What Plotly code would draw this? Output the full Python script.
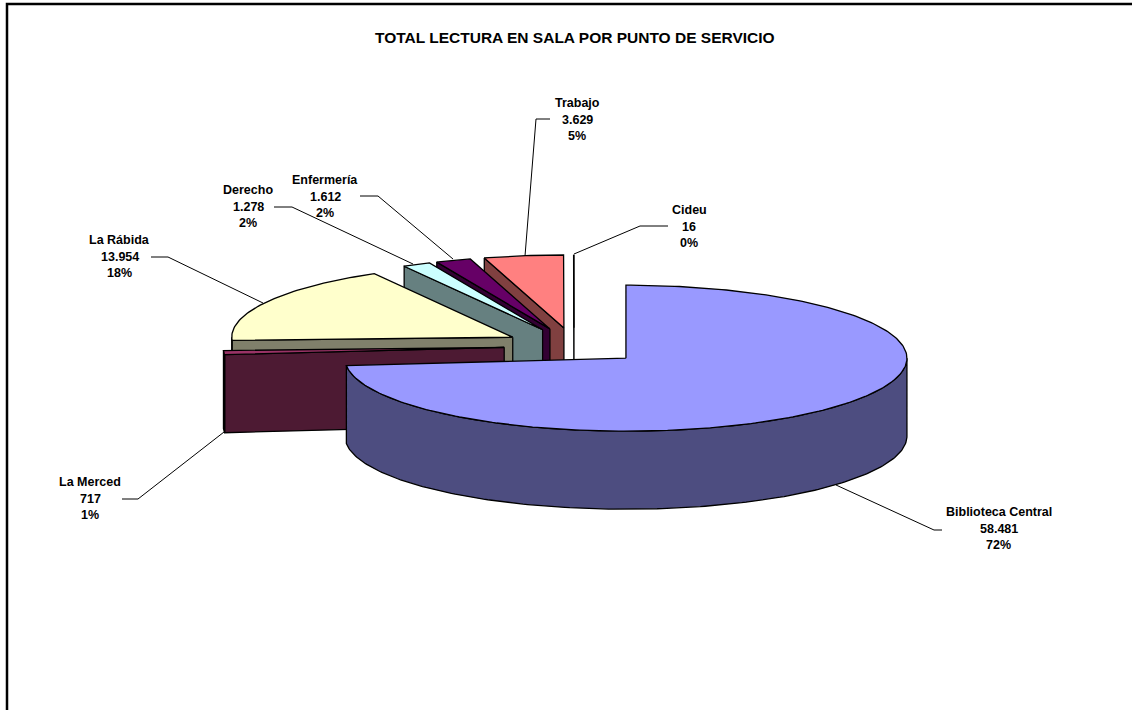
import math
import plotly.graph_objects as go

TITLE = "TOTAL LECTURA EN SALA POR PUNTO DE SERVICIO"
categories = ["Biblioteca Central", "La Merced", "La Rábida", "Derecho", "Enfermería", "Trabajo", "Cideu"]
values = [58481, 717, 13954, 1278, 1612, 3629, 16]
percent_labels = ["72%", "1%", "18%", "2%", "2%", "5%", "0%"]

top_colors = ["#9999FF", "#993366", "#FFFFCC", "#CCFFFF", "#660066", "#FF8080", "#0066CC"]
wall_colors = ["#4D4D80", "#4D1A33", "#80806B", "#668080", "#330033", "#804040", "#003366"]

# Projection of the tilted pie on the pixel-sized plot area
CX, CY, RX, RY, DEPTH, EXPLODE = 574, 346, 281, 73, 78, 70
OUT = 1.3

# Label centres and leader-line paths (layout only)
label_pos = {
    "Biblioteca Central": (998.5, 512), "La Merced": (90, 482), "La Rábida": (119.5, 240),
    "Derecho": (248, 190), "Enfermería": (325, 180), "Trabajo": (577, 103), "Cideu": (689, 210),
}
leaders = [
    [(836, 485), (934, 530), (942, 530)],
    [(224, 432), (138, 499), (122, 499)],
    [(263, 303), (168, 257), (151, 257)],
    [(413, 264), (292, 207), (274, 207)],
    [(453, 259), (378, 196), (360, 196)],
    [(525, 256), (536, 119), (550, 119)],
    [(574, 254), (640, 226), (668, 226)],
]


def project(theta, cx, cy, r=1.0, drop=0.0):
    return cx + RX * r * math.sin(theta), cy - RY * r * math.cos(theta) + drop


def arc(a, b, cx, cy, drop=0.0, step=math.radians(1)):
    n = max(2, int(abs(b - a) / step) + 2)
    return [project(a + (b - a) * i / (n - 1), cx, cy, drop=drop) for i in range(n)]


fig = go.Figure()


def poly(points, fill, width=OUT):
    xs = [p[0] for p in points] + [points[0][0]]
    ys = [p[1] for p in points] + [points[0][1]]
    fig.add_trace(go.Scatter(x=xs, y=ys, mode="lines", fill="toself", fillcolor=fill,
                             line=dict(color="black", width=width), hoverinfo="skip", showlegend=False))


total = sum(values)
angles = []
a = 0.0
for v in values:
    b = a + 2 * math.pi * v / total
    angles.append((a, b))
    a = b

# back to front: last slices first, largest slice on top
for i in reversed(range(len(values))):
    a, b = angles[i]
    mid = (a + b) / 2
    cx = CX + EXPLODE * math.sin(mid)
    cy = CY - EXPLODE * (RY / RX) * math.cos(mid)
    if i > 0:
        # radial wall on the slice's starting edge
        rim = project(a, cx, cy)
        poly([(cx, cy), rim, (rim[0], rim[1] + DEPTH), (cx, cy + DEPTH)], wall_colors[i])
    # outer wall where the rim faces the viewer
    lo, hi = max(a, math.pi / 2), min(b, 3 * math.pi / 2)
    if hi > lo:
        upper = arc(lo, hi, cx, cy)
        lower = arc(hi, lo, cx, cy, drop=DEPTH)
        poly(upper + lower, wall_colors[i])
    poly([(cx, cy)] + arc(a, b, cx, cy), top_colors[i])

for path in leaders:
    fig.add_trace(go.Scatter(x=[p[0] for p in path], y=[p[1] for p in path], mode="lines",
                             line=dict(color="black", width=1), hoverinfo="skip", showlegend=False))

annotations = [dict(x=575, y=37, text=f"<b>{TITLE}</b>", showarrow=False, xref="x", yref="y",
                    font=dict(family="Liberation Sans, Arial", size=15.5, color="black"))]
for cat, val, pct in zip(categories, values, percent_labels):
    x0, y0 = label_pos[cat]
    lines = [cat, f"{val:,}".replace(",", "."), pct]
    for k, line in enumerate(lines):
        annotations.append(dict(x=x0, y=y0 + k * 16.6, text=f"<b>{line}</b>", showarrow=False,
                                xref="x", yref="y",
                                font=dict(family="Liberation Sans, Arial", size=12.5, color="black")))

frame = dict(type="path", path="M 7 710 L 7 4 L 1132 4", line=dict(color="black", width=2.5))

fig.update_layout(
    width=1132, height=710, margin=dict(l=0, r=0, t=0, b=0),
    paper_bgcolor="white", plot_bgcolor="white", showlegend=False,
    xaxis=dict(range=[0, 1132], visible=False, fixedrange=True),
    yaxis=dict(range=[710, 0], visible=False, fixedrange=True),
    annotations=annotations, shapes=[frame],
)
fig.write_html("out.html", config={"displayModeBar": False},
               post_script="document.body.style.margin='0';document.documentElement.style.overflow='hidden';")
